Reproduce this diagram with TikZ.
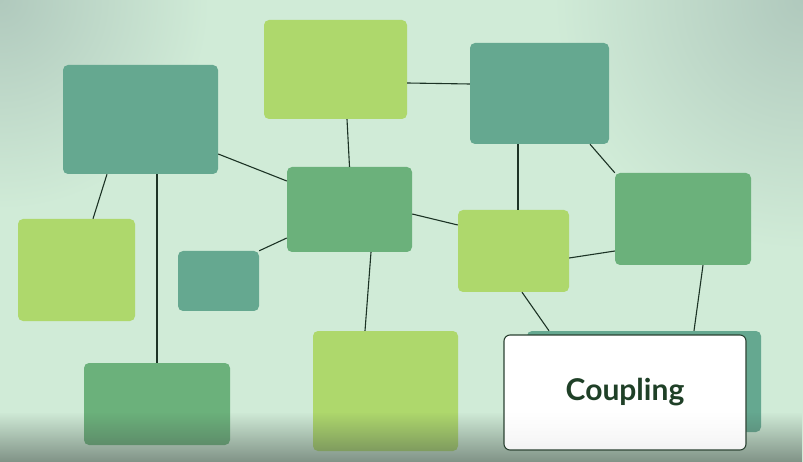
\documentclass[tikz,border=0pt]{standalone}
\usepackage{fontspec}
\newfontfamily\labelfont{Lato}
\usetikzlibrary{fadings}

% Colours of the picture.
\definecolor{bgmint}{HTML}{D0EBD7}
\definecolor{vignette}{HTML}{B0C9BD}
\definecolor{tealfill}{HTML}{65A890}
\definecolor{limefill}{HTML}{AED86C}
\definecolor{greenfill}{HTML}{6BB17B}
\definecolor{linkcol}{HTML}{1C3325}
\definecolor{labelcol}{HTML}{1F4027}
\definecolor{framecol}{HTML}{2B4232}
\definecolor{shadowcol}{HTML}{4A5750}

% White card that turns grey near its lower edge.
\pgfdeclareverticalshading{cardshade}{100bp}{%
    color(0bp)=(black!15); color(30bp)=(black!3); color(42bp)=(white); color(100bp)=(white)}

\begin{document}
\begin{tikzpicture}[x=1pt, y=-1pt,
    block/.style = {rounded corners=5pt, inner sep=0pt, draw=none},
    tealbox/.style = {block, fill=tealfill},
    limebox/.style = {block, fill=limefill},
    greenbox/.style = {block, fill=greenfill},
    link/.style = {draw=linkcol, line width=1.1pt}
]

        % Fix the page size and keep everything inside it.
        \useasboundingbox (0,0) rectangle (803,462);
        \clip (0,0) rectangle (803,462);

        % Background with darker corners.
        \fill[bgmint] (0,0) rectangle (803,462);
        \shade[inner color=vignette, outer color=bgmint] (0,0) circle (210pt);
        \shade[inner color=vignette, outer color=bgmint] (803,0) circle (250pt);

        % The boxes of the network.
        \node[tealbox, minimum width=155pt, minimum height=109pt] (tl) at (140.5,119.5) {};
        \node[limebox, minimum width=143pt, minimum height=99pt] (top) at (335.5,69.5) {};
        \node[tealbox, minimum width=139pt, minimum height=101pt] (tr) at (539.5,93.5) {};
        \node[greenbox, minimum width=125pt, minimum height=85pt] (hub) at (349.5,209.5) {};
        \node[limebox, minimum width=117pt, minimum height=102pt] (left) at (76.5,270) {};
        \node[tealbox, minimum width=81pt, minimum height=60pt] (small) at (218.5,281) {};
        \node[limebox, minimum width=111pt, minimum height=82pt] (mid) at (513.5,251) {};
        \node[greenbox, minimum width=136pt, minimum height=92pt] (right) at (683,219) {};
        \node[greenbox, minimum width=146pt, minimum height=82pt] (botleft) at (157,404) {};
        \node[limebox, minimum width=145pt, minimum height=120pt] (bot) at (385.5,391) {};
        \node[tealbox, minimum width=234pt, minimum height=101pt] (back) at (644,381.5) {};

        % Links between the boxes.
        \draw[link] ([xshift=-33.5pt]tl.south) -- ([xshift=16.5pt]left.north);
        \draw[link] ([xshift=16.5pt]tl.south) -- (botleft.north);
        \draw[link] ([yshift=-34.5pt]tl.east) -- ([yshift=28.5pt]hub.west);
        \draw[link] ([xshift=11.5pt]top.south) -- (hub.north);
        \draw[link] ([yshift=-13.5pt]top.east) -- ([yshift=9.5pt]tr.west);
        \draw[link] ([yshift=-28.5pt]hub.west) -- (small.north east);
        \draw[link] ([xshift=21.5pt]hub.south) -- ([xshift=-20.5pt]bot.north);
        \draw[link] ([yshift=-4.5pt]hub.east) -- ([yshift=26pt]mid.west);
        \draw[link] ([xshift=-21.5pt]tr.south) -- ([xshift=4.5pt]mid.north);
        \draw[link] ([xshift=50.5pt]tr.south) -- (right.north west);
        \draw[link] ([yshift=-7pt]mid.east) -- ([yshift=-32pt]right.west);
        \draw[link] ([xshift=8.5pt]mid.south) -- ([xshift=-95pt]back.north);
        \draw[link] ([xshift=20pt]right.south) -- ([xshift=50pt]back.north);

        % Darker band along the bottom edge.
        \fill[shadowcol, opacity=0.6, path fading=north] (0,412) rectangle (803,462);

        % The labelled card in front.
        \node[%
            rounded corners=6pt,
            draw=framecol,
            line width=1.1pt,
            shading=cardshade,
            minimum width=242pt,
            minimum height=115pt,
            inner sep=0pt,
            text=labelcol,
            font=\labelfont\bfseries\fontsize{30}{36}\selectfont
        ] (coupling) at (625,392.5) {Coupling};
    \end{tikzpicture}
\end{document}
